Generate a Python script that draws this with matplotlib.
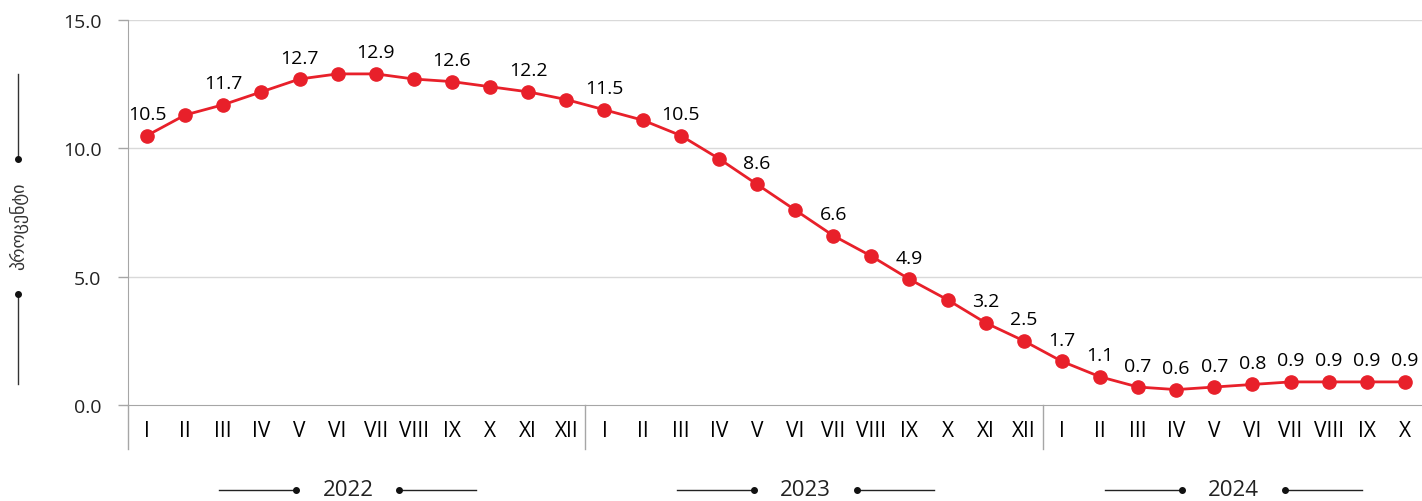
import matplotlib
matplotlib.use("Agg")
import matplotlib.pyplot as plt
from matplotlib.lines import Line2D
import matplotlib.transforms as mtransforms

plt.rcParams['font.family'] = ['Open Sans', 'DejaVu Sans']

# data
years = ['2022', '2023', '2024']
months_per_year = [12, 12, 10]
roman = ['I', 'II', 'III', 'IV', 'V', 'VI', 'VII', 'VIII', 'IX', 'X', 'XI', 'XII']
values = [10.5, 11.3, 11.7, 12.2, 12.7, 12.9, 12.9, 12.7, 12.6, 12.4, 12.2, 11.9,
          11.5, 11.1, 10.5, 9.6, 8.6, 7.6, 6.6, 5.8, 4.9, 4.1, 3.2, 2.5,
          1.7, 1.1, 0.7, 0.6, 0.7, 0.8, 0.9, 0.9, 0.9, 0.9]
labels = ['10.5', '', '11.7', '', '12.7', '', '12.9', '', '12.6', '', '12.2', '',
          '11.5', '', '10.5', '', '8.6', '', '6.6', '', '4.9', '', '3.2', '2.5',
          '1.7', '1.1', '0.7', '0.6', '0.7', '0.8', '0.9', '0.9', '0.9', '0.9']
yticks = [0, 5, 10, 15]
ylabel = 'პროცენტი'

months = []
for n in months_per_year:
    months += roman[:n]

red = '#e8202a'
grid_col = '#d9d9d9'
axis_col = '#a6a6a6'
txt = '#000000'

W, H = 1422, 502
fig = plt.figure(figsize=(W / 100, H / 100), dpi=100)
ax = fig.add_axes([128 / W, 1 - 406 / H, (1424 - 128) / W, (406 - 21) / H])

x = list(range(len(values)))
ax.plot(x, values, color=red, lw=2, marker='o', ms=9.5, zorder=3, clip_on=False)
for i, (v, lab) in enumerate(zip(values, labels)):
    if lab:
        ax.annotate(lab, (i, v), xytext=(0, 9), textcoords='offset points',
                    ha='center', va='bottom', fontsize=14, color=txt)

ax.set_xlim(-0.5, len(values) - 0.5)
ax.set_ylim(0, 15)
ax.set_yticks(yticks, [f'{t:.1f}' for t in yticks])
for t in yticks[1:]:
    ax.axhline(t, color=grid_col, lw=1, zorder=1)
ax.set_xticks(x, months)

for s in ['top', 'right']:
    ax.spines[s].set_visible(False)
ax.spines['left'].set_color(axis_col)
ax.spines['bottom'].set_color(axis_col)
ax.tick_params(axis='y', length=7, width=1, color=axis_col, pad=12, labelsize=14, labelcolor='#222222')
ax.tick_params(axis='x', length=0, pad=11, labelsize=15, labelcolor=txt)

# year separators under the axis
trans = mtransforms.blended_transform_factory(ax.transData, ax.transAxes)
start = 0
bounds = [-0.5]
for n in months_per_year:
    start += n
    bounds.append(start - 0.5)
for b in bounds[:-1]:
    ax.plot([b, b], [0, -0.115], transform=trans, color=axis_col, lw=1, clip_on=False)

# year labels with decorative lines
pos = 0
for yr, n in zip(years, months_per_year):
    c = pos + (n - 1) / 2
    if n == 12:
        c -= 0.23
    yy = -0.22
    ax.text(c, yy, yr, transform=trans, ha='center', va='center', fontsize=16, color='#222222')
    ax.plot([c - 3.37, c - 1.35], [yy, yy], transform=trans, color='#222222', lw=1, clip_on=False)
    ax.plot([c + 1.35, c + 3.37], [yy, yy], transform=trans, color='#222222', lw=1, clip_on=False)
    ax.plot([c - 1.35, c + 1.35], [yy, yy], transform=trans, ls='none', marker='o', ms=4,
            color='#111111', clip_on=False)
    pos += n

# rotated y label with lines
lx = 18 / W
fig.text(lx, 1 - 226 / H, ylabel, rotation=90, ha='center', va='center', fontsize=13,
         color='#333333', family='DejaVu Sans')
fig.add_artist(Line2D([lx, lx], [1 - 75 / H, 1 - 160 / H], color='#333333', lw=1))
fig.add_artist(Line2D([lx, lx], [1 - 295 / H, 1 - 385 / H], color='#333333', lw=1))
fig.add_artist(Line2D([lx, lx], [1 - 160 / H, 1 - 295 / H], ls='none', marker='o', ms=4, color='#111111'))

fig.savefig('out.png', dpi=100)
